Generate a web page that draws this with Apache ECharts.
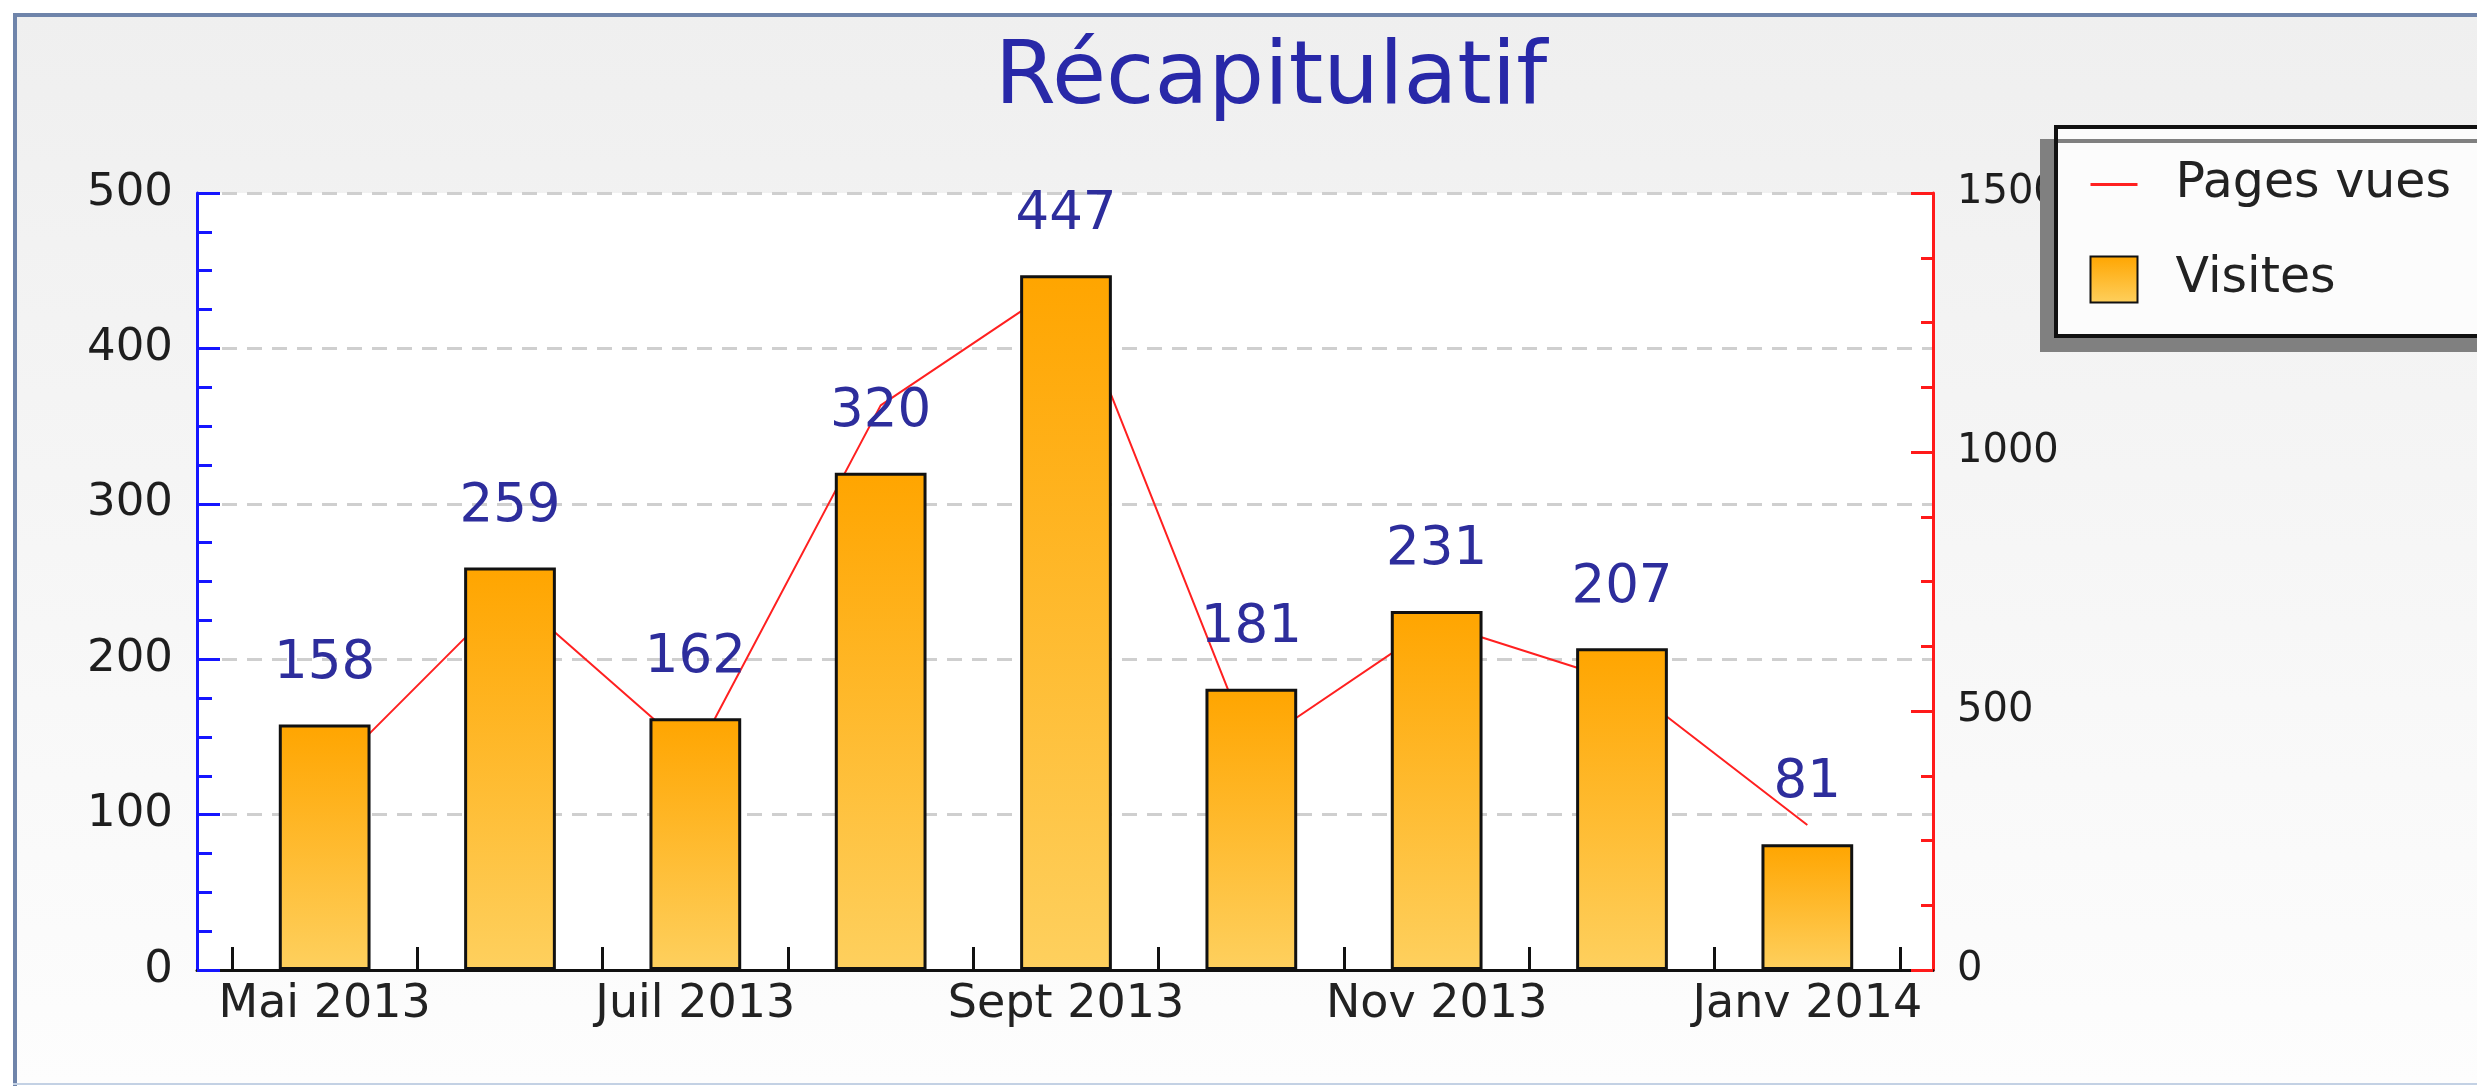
<!DOCTYPE html>
<html>
<head>
<meta charset="utf-8">
<script src="https://cdn.jsdelivr.net/npm/echarts@6/dist/echarts.min.js"></script>
<style>
html,body{margin:0;padding:0;background:#ffffff;}
#chart{width:2477px;height:1086px;}
</style>
</head>
<body>
<div id="chart"></div>
<script>
// ---- data ----
const months = ['Mai 2013','Juin 2013','Juil 2013','Août 2013','Sept 2013','Oct 2013','Nov 2013','Déc 2013','Janv 2014'];
const visites = [158, 259, 162, 320, 447, 181, 231, 207, 81];
const pagesVues = [370, 728, 414, 1090, 1330, 428, 670, 556, 280];
const leftAxisMin = 0, leftAxisMax = 500, leftAxisStep = 100;
const rightAxisMin = 0, rightAxisMax = 1500, rightAxisStep = 500;
const titleText = 'Récapitulatif';
const seriesNames = ['Pages vues', 'Visites'];

// ---- chart ----
const FONT = 'DejaVu Sans';
const chart = echarts.init(document.getElementById('chart'), null, {renderer:'canvas'});

const barGradient = new echarts.graphic.LinearGradient(0,0,0,1,[
  {offset:0,color:'#ffa500'},
  {offset:1,color:'#fed05e'}
]);

const option = {
  animation:false,
  backgroundColor:'#ffffff',
  graphic:[
    {type:'rect', z:-100, shape:{x:13,y:13,width:2500,height:1072},
     style:{fill:new echarts.graphic.LinearGradient(0,0,0,1,[{offset:0,color:'#efefef'},{offset:1,color:'#fdfdfd'}])}},
    {type:'line', z:-99, shape:{x1:13,y1:15,x2:2477,y2:15}, style:{stroke:'#6f84aa',lineWidth:4}},
    {type:'line', z:-99, shape:{x1:15,y1:13,x2:15,y2:1086}, style:{stroke:'#6f84aa',lineWidth:4}},
    {type:'line', z:-99, shape:{x1:13,y1:1084,x2:2477,y2:1084}, style:{stroke:'#c3d1e4',lineWidth:2}}
  ],
  title:{
    text:titleText,
    left:1271,
    textAlign:'center',
    top:36,
    padding:0,
    textStyle:{fontFamily:FONT,fontSize:88,fontWeight:'normal',color:'#2828a8'}
  },
  legend:{
    orient:'vertical',
    left:2056, top:127,
    padding:[33,60,32,33],
    itemWidth:47, itemHeight:46, itemGap:46,
    backgroundColor:'#fcfcfc',
    borderColor:'#111111', borderWidth:4, borderRadius:0,
    shadowColor:'#808080', shadowBlur:0, shadowOffsetX:-14, shadowOffsetY:14,
    textStyle:{fontFamily:FONT,fontSize:49,color:'#222222',padding:[0,0,0,33]},
    data:[
      {name:seriesNames[0], itemStyle:{opacity:0}, lineStyle:{width:3}},
      {name:seriesNames[1], icon:'rect'}
    ]
  },
  grid:[
    {left:197, right:544, top:193, bottom:116, show:true, backgroundColor:'#ffffff', borderWidth:0},
    {left:232, right:577, top:193, bottom:116}
  ],
  xAxis:[
    {gridIndex:0, type:'value', min:0, max:1, show:true,
     axisLine:{show:true, onZero:false, lineStyle:{color:'#111111', width:3}},
     axisTick:{show:false}, axisLabel:{show:false}, splitLine:{show:false}},
    {gridIndex:1, type:'category', data:months, boundaryGap:true,
     axisLine:{show:true, lineStyle:{color:'#111111', width:3}},
     axisTick:{show:true, inside:true, length:23, interval:0, lineStyle:{color:'#111111', width:3}},
     axisLabel:{interval:1, margin:12, fontFamily:FONT, fontSize:46, color:'#222222'},
     splitLine:{show:false}}
  ],
  yAxis:[
    {gridIndex:0, type:'value', position:'left', min:leftAxisMin, max:leftAxisMax, interval:leftAxisStep,
     axisLine:{show:true, lineStyle:{color:'#1515ff', width:3}},
     axisTick:{show:true, inside:true, length:23, lineStyle:{color:'#1515ff', width:3}},
     minorTick:{show:true, splitNumber:4, length:15, lineStyle:{color:'#1515ff', width:3}},
     axisLabel:{margin:24, fontFamily:FONT, fontSize:45, color:'#1e1e1e'},
     splitLine:{show:true, lineStyle:{color:'#cfcfcf', width:3, type:[15,10]}}},
    {gridIndex:0, type:'value', position:'right', min:rightAxisMin, max:rightAxisMax, interval:rightAxisStep,
     axisLine:{show:true, lineStyle:{color:'#ff1a1a', width:3}},
     axisTick:{show:true, inside:true, length:22, lineStyle:{color:'#ff1a1a', width:3}},
     minorTick:{show:true, splitNumber:4, length:12, lineStyle:{color:'#ff1a1a', width:3}},
     axisLabel:{margin:24, fontFamily:FONT, fontSize:40, color:'#1e1e1e', formatter:function(v){return String(v);}},
     splitLine:{show:false}},
    {gridIndex:1, type:'value', min:leftAxisMin, max:leftAxisMax, show:false, splitLine:{show:false}},
    {gridIndex:1, type:'value', min:rightAxisMin, max:rightAxisMax, show:false, splitLine:{show:false}}
  ],
  series:[
    {name:seriesNames[0], type:'line', xAxisIndex:1, yAxisIndex:3, data:pagesVues,
     symbol:'none', z:1,
     lineStyle:{color:'#ff2020', width:2}, itemStyle:{color:'#ff2020'}},
    {name:seriesNames[1], type:'bar', xAxisIndex:1, yAxisIndex:2, data:visites,
     barWidth:'49.5%', z:2,
     itemStyle:{color:barGradient, borderColor:'#111111', borderWidth:3},
     label:{show:true, position:'top', distance:34, fontFamily:FONT, fontSize:53, color:'#2d2d9c'}}
  ]
};
chart.setOption(option);
</script>
</body>
</html>
